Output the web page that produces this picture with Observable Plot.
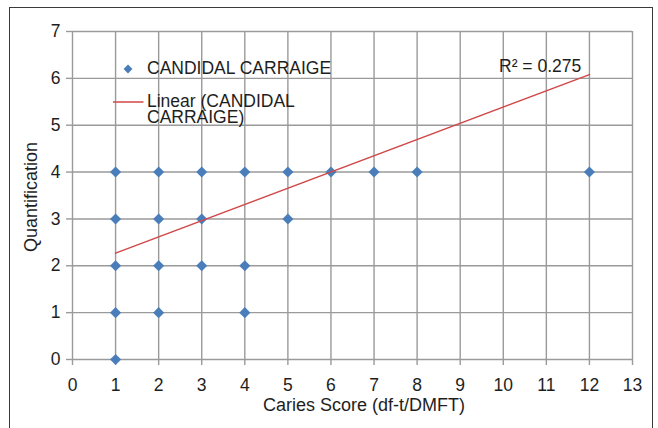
<!DOCTYPE html>
<html>
<head>
<meta charset="utf-8">
<script src="https://cdn.jsdelivr.net/npm/d3@7"></script>
<script src="https://cdn.jsdelivr.net/npm/@observablehq/plot@0.6"></script>
<style>
  html, body { margin: 0; padding: 0; background: #fff; overflow: hidden; }
  #wrap { position: relative; width: 658px; height: 428px; }
  #frame { position: absolute; left: 9px; top: 7px; width: 644px; height: 440px;
           border: 1.5px solid #3a3a3a; box-sizing: border-box; pointer-events: none; }
  svg { font-family: "Liberation Sans", Arial, sans-serif; }
</style>
</head>
<body>
<div id="wrap"><div id="frame"></div></div>
<script>
// Scatter data (Caries score vs Quantification)
const cariesScore    = [1, 1, 1, 1, 1, 2, 2, 2, 2, 3, 3, 3, 4, 4, 4, 5, 5, 6, 7, 8, 12];
const quantification = [0, 1, 2, 3, 4, 1, 2, 3, 4, 2, 3, 4, 1, 2, 4, 3, 4, 4, 4, 4, 4];
// Linear trendline endpoints
const trendX = [1, 12];
const trendY = [2.27, 6.08];
const xTicks = d3.range(0, 14);
const yTicks = d3.range(0, 8);
const seriesName = "CANDIDAL CARRAIGE";
const trendLines = ["Linear (CANDIDAL", "CARRAIGE)"];
const r2Label = "R² = 0.275";
const xLabel = "Caries Score (df-t/DMFT)";
const yLabel = "Quantification";

const points = cariesScore.map((x, i) => ({x, y: quantification[i]}));
const trend = trendX.map((x, i) => ({x, y: trendY[i]}));

const blue = "#4A7EBB";
const red = "#D04848";
const grid = "#9a9a9a";
const ink = "#1e1e1e";
const fs = 17.5;

const chart = Plot.plot({
  width: 658,
  height: 428,
  marginLeft: 72,
  marginRight: 26,
  marginTop: 31,
  marginBottom: 69,
  style: {background: "transparent", fontSize: fs + "px", color: ink, fontFamily: "'Liberation Sans', Arial, sans-serif"},
  x: {domain: [0, 13]},
  y: {domain: [0, 7]},
  marks: [
    Plot.gridX(xTicks, {stroke: grid, strokeOpacity: 1, strokeWidth: 1.4}),
    Plot.gridY(yTicks, {stroke: grid, strokeOpacity: 1, strokeWidth: 1.4}),
    Plot.axisX({ticks: xTicks, tickFormat: "d", tickSize: 6, tickPadding: 13, stroke: grid, strokeWidth: 1.4, fill: ink, fontSize: fs, label: null}),
    Plot.axisY({ticks: yTicks, tickFormat: "d", tickSize: 6, tickPadding: 6, stroke: grid, strokeWidth: 1.4, fill: ink, fontSize: fs, label: null}),
    Plot.dot(points, {x: "x", y: "y", symbol: "diamond2", r: 5, fill: blue, stroke: "none"}),
    Plot.line(trend, {x: "x", y: "y", stroke: red, strokeWidth: 1.5})
  ]
});

const svg = d3.select(chart);
const font = "'Liberation Sans', Arial, sans-serif";
function label(txt, x, y, opts = {}) {
  const t = svg.append("text")
    .attr("x", x).attr("y", y)
    .attr("fill", ink)
    .attr("font-family", font)
    .attr("font-size", (opts.size || fs) + "px")
    .attr("text-anchor", opts.anchor || "start")
    .text(txt);
  if (opts.rotate) t.attr("transform", `rotate(${opts.rotate},${x},${y})`);
  return t;
}

// legend: series marker
svg.append("path")
  .attr("d", d3.symbol(d3.symbolDiamond2, Math.PI * 16)())
  .attr("transform", "translate(128,69)")
  .attr("fill", blue);
label(seriesName, 147, 73.5);
// legend: trendline sample
svg.append("line")
  .attr("x1", 113).attr("x2", 143.5)
  .attr("y1", 102).attr("y2", 102)
  .attr("stroke", red).attr("stroke-width", 1.5);
label(trendLines[0], 147, 106.8);
label(trendLines[1], 147, 123.3);
// R squared
label(r2Label, 499, 71.8);
// axis titles
label(xLabel, 364, 410.5, {anchor: "middle", size: 18});
label(yLabel, 37, 197, {anchor: "middle", rotate: -90, size: 18});

document.getElementById("wrap").prepend(chart);
</script>
</body>
</html>
